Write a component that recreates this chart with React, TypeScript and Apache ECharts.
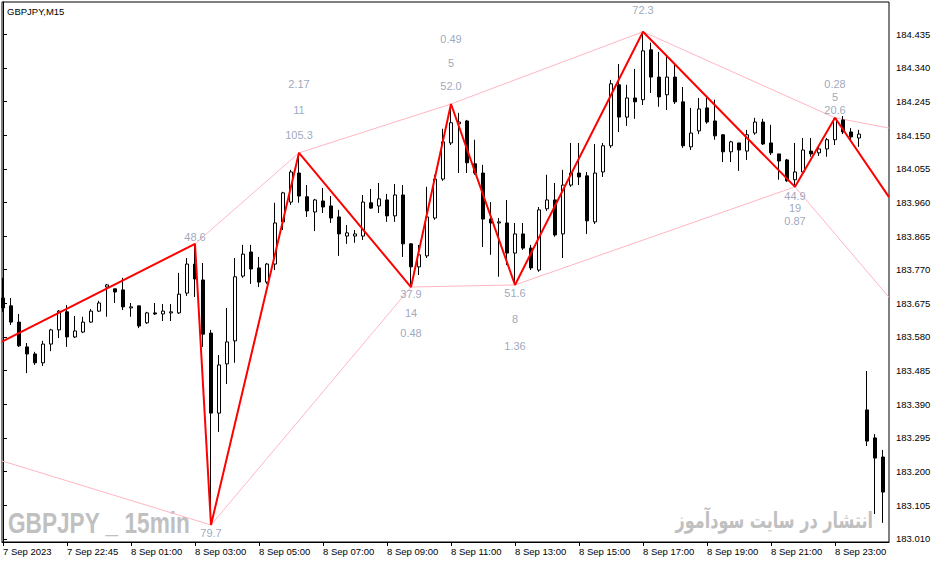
import React, { useEffect, useRef } from "react";
import * as echarts from "echarts";

// [open, close, low, high] per 15-minute bar
const candles: number[][] = [
  [183.690, 183.662, 183.651, 183.747],
  [183.668, 183.622, 183.614, 183.690],
  [183.622, 183.555, 183.552, 183.645],
  [183.552, 183.532, 183.478, 183.563],
  [183.532, 183.507, 183.501, 183.538],
  [183.507, 183.560, 183.498, 183.569],
  [183.560, 183.600, 183.540, 183.603],
  [183.600, 183.653, 183.577, 183.656],
  [183.651, 183.580, 183.552, 183.670],
  [183.580, 183.597, 183.577, 183.639],
  [183.594, 183.622, 183.591, 183.637],
  [183.622, 183.653, 183.620, 183.659],
  [183.653, 183.676, 183.651, 183.682],
  [183.721, 183.727, 183.637, 183.730],
  [183.716, 183.707, 183.676, 183.716],
  [183.713, 183.665, 183.656, 183.747],
  [183.662, 183.665, 183.637, 183.676],
  [183.668, 183.611, 183.605, 183.668],
  [183.620, 183.648, 183.617, 183.651],
  [183.648, 183.645, 183.642, 183.676],
  [183.645, 183.653, 183.625, 183.673],
  [183.648, 183.651, 183.625, 183.673],
  [183.648, 183.701, 183.645, 183.761],
  [183.704, 183.786, 183.696, 183.803],
  [183.786, 183.744, 183.693, 183.843],
  [183.741, 183.588, 183.552, 183.789],
  [183.591, 183.365, 183.049, 183.600],
  [183.365, 183.501, 183.312, 183.529],
  [183.504, 183.566, 183.447, 183.662],
  [183.569, 183.750, 183.507, 183.803],
  [183.752, 183.814, 183.747, 183.840],
  [183.820, 183.772, 183.730, 183.840],
  [183.775, 183.735, 183.721, 183.806],
  [183.735, 183.786, 183.730, 183.789],
  [183.786, 183.902, 183.769, 183.959],
  [183.905, 183.987, 183.882, 183.990],
  [183.961, 184.046, 183.953, 184.052],
  [184.043, 183.978, 183.959, 184.100],
  [183.976, 183.936, 183.919, 184.009],
  [183.933, 183.967, 183.879, 183.970],
  [183.964, 183.947, 183.930, 184.001],
  [183.950, 183.916, 183.902, 183.978],
  [183.919, 183.871, 183.809, 183.939],
  [183.865, 183.874, 183.843, 183.896],
  [183.865, 183.871, 183.846, 183.882],
  [183.865, 183.961, 183.854, 183.981],
  [183.959, 183.944, 183.942, 183.998],
  [183.950, 183.970, 183.930, 184.015],
  [183.967, 183.922, 183.905, 183.984],
  [183.922, 183.981, 183.905, 184.012],
  [183.981, 183.843, 183.806, 184.009],
  [183.843, 183.778, 183.721, 183.845],
  [183.778, 183.812, 183.755, 183.840],
  [183.809, 183.919, 183.803, 184.004],
  [183.916, 184.026, 183.911, 184.038],
  [184.026, 184.131, 184.021, 184.168],
  [184.128, 184.185, 184.122, 184.238],
  [184.182, 184.187, 184.043, 184.213],
  [184.190, 184.072, 184.043, 184.193],
  [184.069, 184.043, 184.038, 184.137],
  [184.043, 183.913, 183.834, 184.066],
  [183.913, 183.902, 183.812, 183.961],
  [183.902, 183.905, 183.750, 183.916],
  [183.902, 183.817, 183.783, 183.967],
  [183.817, 183.871, 183.727, 183.902],
  [183.871, 183.831, 183.826, 183.902],
  [183.831, 183.775, 183.769, 183.840],
  [183.769, 183.939, 183.764, 183.947],
  [183.942, 183.967, 183.936, 184.038],
  [183.967, 183.868, 183.863, 184.015],
  [183.871, 184.009, 183.803, 184.052],
  [184.009, 184.043, 184.004, 184.128],
  [184.043, 184.032, 184.009, 184.128],
  [184.035, 183.908, 183.871, 184.046],
  [183.905, 184.043, 183.899, 184.125],
  [184.046, 184.120, 184.032, 184.128],
  [184.120, 184.295, 184.114, 184.306],
  [184.292, 184.201, 184.159, 184.351],
  [184.201, 184.255, 184.176, 184.292],
  [184.255, 184.244, 184.196, 184.337],
  [184.250, 184.388, 184.235, 184.442],
  [184.391, 184.314, 184.269, 184.411],
  [184.314, 184.258, 184.230, 184.385],
  [184.264, 184.314, 184.221, 184.374],
  [184.314, 184.244, 184.238, 184.354],
  [184.244, 184.120, 184.114, 184.286],
  [184.117, 184.156, 184.108, 184.227],
  [184.162, 184.224, 184.153, 184.255],
  [184.227, 184.187, 184.182, 184.255],
  [184.190, 184.148, 184.137, 184.250],
  [184.151, 184.103, 184.074, 184.153],
  [184.103, 184.131, 184.074, 184.134],
  [184.128, 184.108, 184.049, 184.128],
  [184.105, 184.151, 184.080, 184.165],
  [184.156, 184.187, 184.151, 184.199],
  [184.187, 184.125, 184.122, 184.196],
  [184.128, 184.100, 184.094, 184.179],
  [184.097, 184.077, 184.024, 184.097],
  [184.080, 184.021, 184.018, 184.083],
  [184.024, 184.046, 184.004, 184.128],
  [184.046, 184.108, 184.043, 184.142],
  [184.105, 184.097, 184.089, 184.142],
  [184.100, 184.111, 184.091, 184.122],
  [184.111, 184.137, 184.089, 184.142],
  [184.137, 184.196, 184.122, 184.199],
  [184.193, 184.159, 184.153, 184.204],
  [184.159, 184.145, 184.131, 184.170],
  [184.142, 184.153, 184.117, 184.165],
  [183.374, 183.286, 183.272, 183.484],
  [183.295, 183.238, 183.080, 183.306],
  [183.241, 183.142, 183.055, 183.261],
];

const xLabelIdx = [0, 8, 16, 24, 32, 40, 48, 56, 64, 72, 80, 88, 96, 104];
const xLabels = [
  "7 Sep 2023", "7 Sep 22:45", "8 Sep 01:00", "8 Sep 03:00", "8 Sep 05:00",
  "8 Sep 07:00", "8 Sep 09:00", "8 Sep 11:00", "8 Sep 13:00", "8 Sep 15:00",
  "8 Sep 17:00", "8 Sep 19:00", "8 Sep 21:00", "8 Sep 23:00",
];
const yTicks = [
  183.010, 183.105, 183.200, 183.295, 183.390, 183.485, 183.580, 183.675,
  183.770, 183.865, 183.960, 184.055, 184.150, 184.245, 184.340, 184.435,
];

const X_MIN = -0.125;
const X_MAX = 110.75;
const Y_MIN = 183.001;
const Y_MAX = 184.526;

// ZigZag path (first and last points sit on the chart edges)
const zigzagIdx = [X_MIN, 24, 26, 37, 51, 56, 64, 80, 99, 104, X_MAX];
const zigzagPrice = [183.567, 183.843, 183.049, 184.100, 183.721, 184.238, 183.727, 184.442, 184.004, 184.199, 183.975];

// channel lines joining consecutive highs / lows
const highLineIdx = [24, 37, 56, 80, 104, X_MAX];
const highLinePrice = [183.843, 184.100, 184.238, 184.442, 184.199, 184.170];
const lowLineIdx = [X_MIN, 26, 51, 64, 99, X_MAX];
const lowLinePrice = [183.230, 183.049, 183.721, 183.727, 184.004, 183.692];

// pivot annotations
const pivotIdx = [24, 26, 37, 51, 56, 64, 80, 99, 104];
const pivotPrice = [183.843, 183.049, 184.100, 183.721, 184.238, 183.727, 184.442, 184.004, 184.199];
const pivotPips = ["48.6", "79.7", "105.3", "37.9", "52.0", "51.6", "72.3", "44.9", "20.6"];
const pivotBars = ["", "", "11", "14", "5", "8", "", "19", "5"];
const pivotRatio = ["", "", "2.17", "0.48", "0.49", "1.36", "", "0.87", "0.28"];

// pixel offsets of the annotation rows (style)
const pipsDy = [-7, 8, -18, 7, -18, 8, -22, 9, -8];
const barsDy = [0, 0, -43, 26, -41, 34, 0, 21, -21];
const ratioDy = [0, 0, -69, 46, -65, 61, 0, 34, -34];

const FONT = "'Liberation Sans', Arial, sans-serif";

function buildOption() {
  const candleData = candles.map((c, i) => [i, c[0], c[1], c[2], c[3]]);
  const annoData: any[] = [];
  pivotIdx.forEach((x, k) => {
    const rows: [string, number][] = [
      [pivotPips[k], pipsDy[k]],
      [pivotBars[k], barsDy[k]],
      [pivotRatio[k], ratioDy[k]],
    ];
    rows.forEach(([t, dy]) => {
      if (!t) return;
      annoData.push({
        value: [x, pivotPrice[k]],
        label: { formatter: t, offset: [0, dy] },
      });
    });
  });

  return {
    animation: false,
    backgroundColor: "#ffffff",
    textStyle: { fontFamily: FONT },
    grid: {
      left: 2,
      right: 46,
      top: 2,
      bottom: 21,
      show: true,
      borderColor: "#000000",
      borderWidth: 1,
      backgroundColor: "#ffffff",
    },
    xAxis: {
      type: "value",
      min: X_MIN,
      max: X_MAX,
      axisLine: { show: true, lineStyle: { color: "#000000", width: 1 } },
      axisTick: { show: true, customValues: xLabelIdx, length: 4, lineStyle: { color: "#000000" } },
      axisLabel: {
        show: true,
        customValues: xLabelIdx,
        formatter: (v: number) => {
          const k = xLabelIdx.indexOf(Math.round(v));
          return k >= 0 ? xLabels[k] : "";
        },
        align: "left",
        margin: 4,
        fontSize: 9.5,
        color: "#000000",
        fontFamily: FONT,
        hideOverlap: false,
      },
      splitLine: { show: false },
    },
    yAxis: {
      type: "value",
      position: "right",
      min: Y_MIN,
      max: Y_MAX,
      scale: true,
      axisLine: { show: true, lineStyle: { color: "#000000", width: 1 } },
      axisTick: { show: true, customValues: yTicks, length: 4, lineStyle: { color: "#000000" } },
      axisLabel: {
        show: true,
        customValues: yTicks,
        formatter: (v: number) => v.toFixed(3),
        margin: 7,
        fontSize: 9.5,
        color: "#000000",
        fontFamily: FONT,
      },
      splitLine: { show: false },
    },
    graphic: [
      {
        type: "text",
        x: 7,
        y: 11,
        z: 100,
        style: { text: "GBPJPY,M15", fontSize: 9.5, fontFamily: FONT, fill: "#000000", verticalAlign: "middle" },
      },
      {
        type: "text",
        x: 8,
        y: 522.5,
        scaleX: 0.78,
        z: 0,
        style: {
          text: "GBPJPY _ 15min",
          fontSize: 29,
          fontWeight: "bold",
          fontFamily: FONT,
          fill: "#c0c0c0",
          verticalAlign: "middle",
        },
      },
      {
        type: "text",
        x: 873,
        y: 521,
        scaleX: 0.73,
        z: 0,
        style: {
          text: "انتشار در سایت سودآموز",
          fontSize: 22,
          fontWeight: "bold",
          fontFamily: "'DejaVu Sans', sans-serif",
          fill: "#c0c0c0",
          align: "right",
          verticalAlign: "middle",
        },
      },
    ],
    series: [
      {
        type: "line",
        z: 1,
        data: highLineIdx.map((x, i) => [x, highLinePrice[i]]),
        symbol: "none",
        lineStyle: { color: "#ffb6c1", width: 1 },
        silent: true,
      },
      {
        type: "line",
        z: 1,
        data: lowLineIdx.map((x, i) => [x, lowLinePrice[i]]),
        symbol: "none",
        lineStyle: { color: "#ffb6c1", width: 1 },
        silent: true,
      },
      {
        type: "candlestick",
        z: 2,
        data: candleData,
        encode: { x: 0, y: [1, 2, 3, 4] },
        barWidth: 4,
        itemStyle: {
          color: "#ffffff",
          color0: "#000000",
          borderColor: "#000000",
          borderColor0: "#000000",
          borderWidth: 1,
        },
        silent: true,
      },
      {
        type: "line",
        z: 3,
        data: zigzagIdx.map((x, i) => [x, zigzagPrice[i]]),
        symbol: "none",
        lineStyle: { color: "#ff0000", width: 2 },
        silent: true,
      },
      {
        type: "scatter",
        z: 4,
        data: annoData,
        symbolSize: 1,
        itemStyle: { color: "rgba(0,0,0,0)" },
        label: {
          show: true,
          position: "inside",
          color: "#8590ad",
          fontSize: 11,
          fontFamily: FONT,
        },
        silent: true,
      },
    ],
  };
}

export default function App() {
  const ref = useRef<HTMLDivElement>(null);
  useEffect(() => {
    if (!ref.current) return;
    const chart = echarts.init(ref.current, null, { renderer: "svg" });
    chart.setOption(buildOption() as any);
    return () => {
      chart.dispose();
    };
  }, []);
  return (
    <div
      ref={ref}
      style={{ position: "fixed", left: 0, top: 0, width: 935, height: 563, background: "#ffffff" }}
    />
  );
}
